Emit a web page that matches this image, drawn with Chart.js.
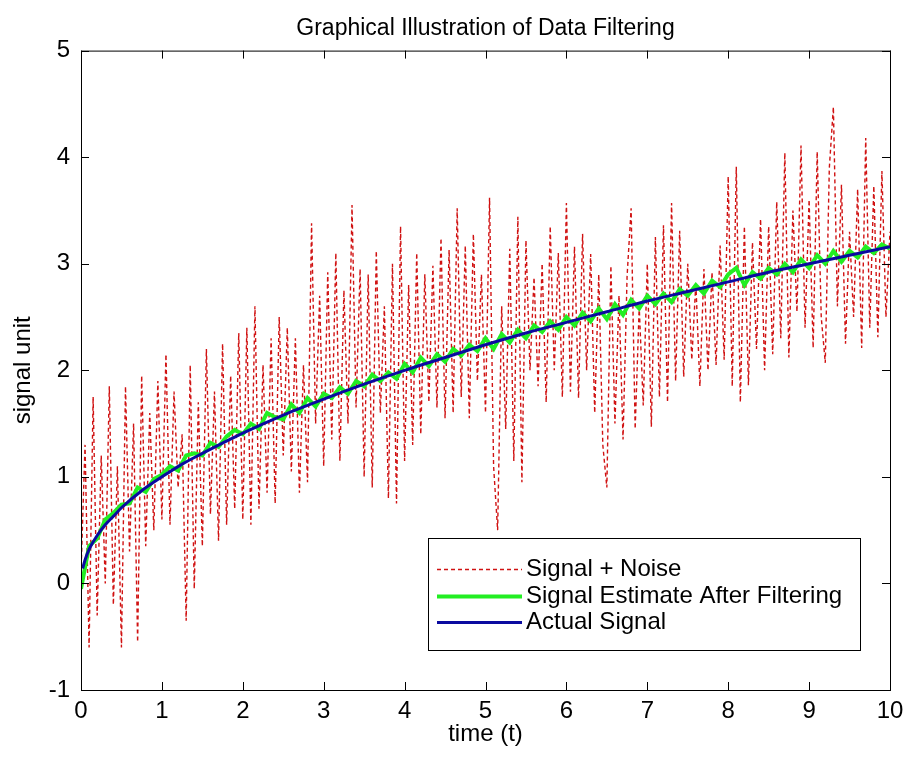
<!DOCTYPE html>
<html>
<head>
<meta charset="utf-8">
<script src="https://cdn.jsdelivr.net/npm/chart.js@4.4.1/dist/chart.umd.min.js"></script>
<style>
    html, body { margin: 0; padding: 0; background: #fff; }
</style>
</head>
<body>
<canvas id="filterChart" width="904" height="757"></canvas>
<script>
// axis ticks
const xTicks = [0, 1, 2, 3, 4, 5, 6, 7, 8, 9, 10];
const yTicks = [-1, 0, 1, 2, 3, 4, 5];

// Signal + Noise
const noiseTime = [
    0.00, 0.05, 0.10, 0.15, 0.20, 0.25, 0.30, 0.35, 0.40, 0.45,
    0.50, 0.55, 0.60, 0.65, 0.70, 0.75, 0.80, 0.85, 0.90, 0.95,
    1.00, 1.05, 1.10, 1.15, 1.20, 1.25, 1.30, 1.35, 1.40, 1.45,
    1.50, 1.55, 1.60, 1.65, 1.70, 1.75, 1.80, 1.85, 1.90, 1.95,
    2.00, 2.05, 2.10, 2.15, 2.20, 2.25, 2.30, 2.35, 2.40, 2.45,
    2.50, 2.55, 2.60, 2.65, 2.70, 2.75, 2.80, 2.85, 2.90, 2.95,
    3.00, 3.05, 3.10, 3.15, 3.20, 3.25, 3.30, 3.35, 3.40, 3.45,
    3.50, 3.55, 3.60, 3.65, 3.70, 3.75, 3.80, 3.85, 3.90, 3.95,
    4.00, 4.05, 4.10, 4.15, 4.20, 4.25, 4.30, 4.35, 4.40, 4.45,
    4.50, 4.55, 4.60, 4.65, 4.70, 4.75, 4.80, 4.85, 4.90, 4.95,
    5.00, 5.05, 5.10, 5.15, 5.20, 5.25, 5.30, 5.35, 5.40, 5.45,
    5.50, 5.55, 5.60, 5.65, 5.70, 5.75, 5.80, 5.85, 5.90, 5.95,
    6.00, 6.05, 6.10, 6.15, 6.20, 6.25, 6.30, 6.35, 6.40, 6.45,
    6.50, 6.55, 6.60, 6.65, 6.70, 6.75, 6.80, 6.85, 6.90, 6.95,
    7.00, 7.05, 7.10, 7.15, 7.20, 7.25, 7.30, 7.35, 7.40, 7.45,
    7.50, 7.55, 7.60, 7.65, 7.70, 7.75, 7.80, 7.85, 7.90, 7.95,
    8.00, 8.05, 8.10, 8.15, 8.20, 8.25, 8.30, 8.35, 8.40, 8.45,
    8.50, 8.55, 8.60, 8.65, 8.70, 8.75, 8.80, 8.85, 8.90, 8.95,
    9.00, 9.05, 9.10, 9.15, 9.20, 9.25, 9.30, 9.35, 9.40, 9.45,
    9.50, 9.55, 9.60, 9.65, 9.70, 9.75, 9.80, 9.85, 9.90, 9.95,
    10.00
];
const noiseValues = [
    0.10, 1.30, -0.60, 1.75, -0.30, 1.20, 0.00, 1.85, -0.20, 1.10,
    -0.60, 1.85, 0.30, 1.50, -0.55, 1.95, 0.35, 1.60, 0.50, 1.90,
    0.60, 2.15, 0.55, 1.80, 0.90, 1.40, -0.35, 2.05, -0.05, 1.70,
    0.35, 2.20, 0.65, 1.80, 0.40, 2.25, 0.55, 1.95, 0.70, 2.35,
    0.60, 2.40, 0.55, 2.60, 0.70, 2.05, 0.85, 2.30, 0.75, 2.50,
    1.20, 2.40, 1.05, 2.30, 0.85, 2.05, 0.95, 3.38, 1.50, 2.70,
    1.10, 2.92, 1.35, 3.10, 1.15, 2.75, 1.50, 3.55, 1.65, 2.95,
    1.00, 2.90, 0.90, 3.12, 1.60, 2.60, 0.80, 3.00, 0.75, 3.35,
    1.15, 2.80, 1.30, 3.10, 1.40, 2.90, 1.70, 2.98, 1.65, 3.24,
    1.55, 3.13, 1.60, 3.52, 1.75, 3.17, 1.55, 3.28, 1.90, 2.90,
    1.60, 3.62, 1.10, 0.50, 2.60, 1.45, 3.14, 1.15, 3.44, 0.95,
    3.22, 2.00, 2.87, 1.85, 3.00, 1.70, 3.35, 2.00, 3.10, 1.75,
    3.57, 1.80, 3.16, 1.74, 3.28, 2.00, 3.09, 1.60, 2.90, 1.30,
    0.90, 2.98, 1.50, 2.70, 1.35, 2.88, 3.52, 1.45, 2.60, 1.67,
    3.00, 1.47, 3.25, 1.75, 3.36, 1.70, 3.57, 1.90, 3.31, 1.94,
    3.00, 2.10, 2.82, 1.85, 2.95, 2.00, 2.92, 2.05, 3.17, 2.10,
    3.82, 1.85, 3.91, 1.70, 3.35, 1.86, 3.20, 2.20, 3.42, 2.00,
    3.35, 2.15, 3.58, 2.30, 4.04, 2.12, 3.50, 2.55, 4.11, 2.40,
    3.60, 2.21, 4.05, 2.50, 2.07, 3.90, 4.47, 2.60, 3.74, 2.25,
    3.30, 2.50, 3.70, 2.21, 4.18, 2.40, 3.73, 2.31, 3.87, 2.50,
    3.30
];

// Signal Estimate After Filtering
const filterTime = [
    0.0, 0.1, 0.2, 0.3, 0.4, 0.5, 0.6, 0.7, 0.8, 0.9,
    1.0, 1.1, 1.2, 1.3, 1.4, 1.5, 1.6, 1.7, 1.8, 1.9,
    2.0, 2.1, 2.2, 2.3, 2.4, 2.5, 2.6, 2.7, 2.8, 2.9,
    3.0, 3.1, 3.2, 3.3, 3.4, 3.5, 3.6, 3.7, 3.8, 3.9,
    4.0, 4.1, 4.2, 4.3, 4.4, 4.5, 4.6, 4.7, 4.8, 4.9,
    5.0, 5.1, 5.2, 5.3, 5.4, 5.5, 5.6, 5.7, 5.8, 5.9,
    6.0, 6.1, 6.2, 6.3, 6.4, 6.5, 6.6, 6.7, 6.8, 6.9,
    7.0, 7.1, 7.2, 7.3, 7.4, 7.5, 7.6, 7.7, 7.8, 7.9,
    8.0, 8.1, 8.2, 8.3, 8.4, 8.5, 8.6, 8.7, 8.8, 8.9,
    9.0, 9.1, 9.2, 9.3, 9.4, 9.5, 9.6, 9.7, 9.8, 9.9,
    10.0
];
const filterValues = [
    -0.05, 0.35, 0.42, 0.60, 0.66, 0.74, 0.75, 0.90, 0.86, 0.98,
    1.02, 1.10, 1.06, 1.20, 1.22, 1.20, 1.32, 1.28, 1.38, 1.44,
    1.40, 1.50, 1.45, 1.60, 1.56, 1.54, 1.68, 1.60, 1.74, 1.66,
    1.78, 1.74, 1.84, 1.78, 1.90, 1.85, 1.96, 1.90, 1.98, 1.92,
    2.06, 1.98, 2.12, 2.04, 2.15, 2.08, 2.20, 2.14, 2.24, 2.18,
    2.30, 2.20, 2.34, 2.26, 2.38, 2.30, 2.42, 2.36, 2.46, 2.38,
    2.50, 2.42, 2.54, 2.46, 2.58, 2.48, 2.62, 2.52, 2.66, 2.58,
    2.70, 2.62, 2.72, 2.64, 2.76, 2.70, 2.80, 2.72, 2.84, 2.78,
    2.90, 2.96, 2.80, 2.92, 2.86, 2.96, 2.90, 3.00, 2.92, 3.04,
    2.96, 3.08, 3.00, 3.12, 3.02, 3.12, 3.06, 3.16, 3.10, 3.18,
    3.14
];

// Actual Signal
const actualTime = [0.02, 0.05, 0.1, 0.2, 0.3, 0.4, 0.5, 0.75, 1, 1.25, 1.5, 2, 2.5, 3, 3.5, 4, 4.5, 5, 5.5, 6, 6.5, 7, 7.5, 8, 8.5, 9, 9.5, 10];
const actualValues = [0.14, 0.22, 0.32, 0.45, 0.55, 0.63, 0.71, 0.87, 1.00, 1.12, 1.22, 1.41, 1.58, 1.73, 1.87, 2.00, 2.12, 2.24, 2.35, 2.45, 2.55, 2.65, 2.74, 2.83, 2.92, 3.00, 3.08, 3.16];

const toPoints = (ts, vs) => ts.map((t, i) => ({ x: t, y: vs[i] }));

const FONT = "'Liberation Sans', Arial, Helvetica, sans-serif";

// box, inward ticks on all four sides, and the MATLAB style legend
const matlabFrame = {
    id: "matlabFrame",
    afterDraw(chart) {
        const { ctx, chartArea: a, scales } = chart;
        const x = scales.x, y = scales.y;
        const len = 8;

        ctx.save();
        ctx.strokeStyle = "#000";
        ctx.lineWidth = 1;
        ctx.strokeRect(a.left + 0.5, a.top + 0.5, a.right - a.left, a.bottom - a.top);

        ctx.beginPath();
        xTicks.forEach(v => {
            const px = Math.round(x.getPixelForValue(v)) + 0.5;
            ctx.moveTo(px, a.bottom); ctx.lineTo(px, a.bottom - len);
            ctx.moveTo(px, a.top); ctx.lineTo(px, a.top + len);
        });
        yTicks.forEach(v => {
            const py = Math.round(y.getPixelForValue(v)) + 0.5;
            ctx.moveTo(a.left, py); ctx.lineTo(a.left + len, py);
            ctx.moveTo(a.right, py); ctx.lineTo(a.right - len, py);
        });
        ctx.stroke();

        // legend
        const box = { left: 428, top: 538, right: 860, bottom: 650 };
        ctx.fillStyle = "#fff";
        ctx.fillRect(box.left, box.top, box.right - box.left, box.bottom - box.top);
        ctx.strokeRect(box.left + 0.5, box.top + 0.5, box.right - box.left, box.bottom - box.top);

        const rows = [569, 596, 622];
        ctx.font = "24px " + FONT;
        ctx.textBaseline = "middle";
        chart.data.datasets.forEach((ds, i) => {
            const ry = rows[i] + 0.5;
            ctx.beginPath();
            ctx.strokeStyle = ds.borderColor;
            ctx.lineWidth = ds.borderWidth;
            ctx.setLineDash(ds.borderDash || []);
            ctx.moveTo(437, ry);
            ctx.lineTo(522, ry);
            ctx.stroke();
            ctx.setLineDash([]);
            ctx.fillStyle = "#000";
            ctx.fillText(ds.label, 526, rows[i]);
        });
        ctx.restore();
    }
};

new Chart(document.getElementById("filterChart"), {
    type: "line",
    data: {
        datasets: [
            {
                label: "Signal + Noise",
                data: toPoints(noiseTime, noiseValues),
                borderColor: "#d01212",
                borderWidth: 1.4,
                borderDash: [4, 3],
                pointRadius: 0,
                tension: 0,
                order: 3
            },
            {
                label: "Signal Estimate After Filtering",
                data: toPoints(filterTime, filterValues),
                borderColor: "#22ee22",
                borderWidth: 4,
                pointRadius: 0,
                tension: 0,
                order: 2
            },
            {
                label: "Actual Signal",
                data: toPoints(actualTime, actualValues),
                borderColor: "#0a0aa0",
                borderWidth: 3,
                pointRadius: 0,
                cubicInterpolationMode: "monotone",
                order: 1
            }
        ]
    },
    options: {
        responsive: false,
        animation: false,
        layout: { padding: { left: 0, right: 14, top: 0, bottom: 0 } },
        plugins: {
            legend: { display: false },
            tooltip: { enabled: false },
            title: {
                display: true,
                fullSize: false,
                text: "Graphical Illustration of Data Filtering",
                color: "#000",
                font: { family: FONT, size: 23, weight: "normal" },
                padding: { top: 15, bottom: 8 }
            }
        },
        scales: {
            x: {
                type: "linear",
                min: 0,
                max: 10,
                afterBuildTicks: s => { s.ticks = xTicks.map(v => ({ value: v })); },
                afterFit: s => { s.height = 67; s.paddingLeft = 0; s.paddingRight = 0; },
                grid: { display: false, drawTicks: false },
                border: { display: false },
                ticks: { color: "#000", padding: 7, font: { family: FONT, size: 24 } },
                title: {
                    display: true,
                    text: "time (t)",
                    color: "#000",
                    font: { family: FONT, size: 24 },
                    padding: { top: 8, bottom: 8 }
                }
            },
            y: {
                type: "linear",
                min: -1,
                max: 5,
                afterBuildTicks: s => { s.ticks = yTicks.map(v => ({ value: v })); },
                afterFit: s => { s.width = 81; s.paddingTop = 0; s.paddingBottom = 0; },
                grid: { display: false, drawTicks: false },
                border: { display: false },
                ticks: { color: "#000", padding: 11, font: { family: FONT, size: 24 } },
                title: {
                    display: true,
                    text: "signal unit",
                    color: "#000",
                    font: { family: FONT, size: 24 },
                    padding: { top: 9, bottom: 4 }
                }
            }
        }
    },
    plugins: [matlabFrame]
});
</script>
</body>
</html>
